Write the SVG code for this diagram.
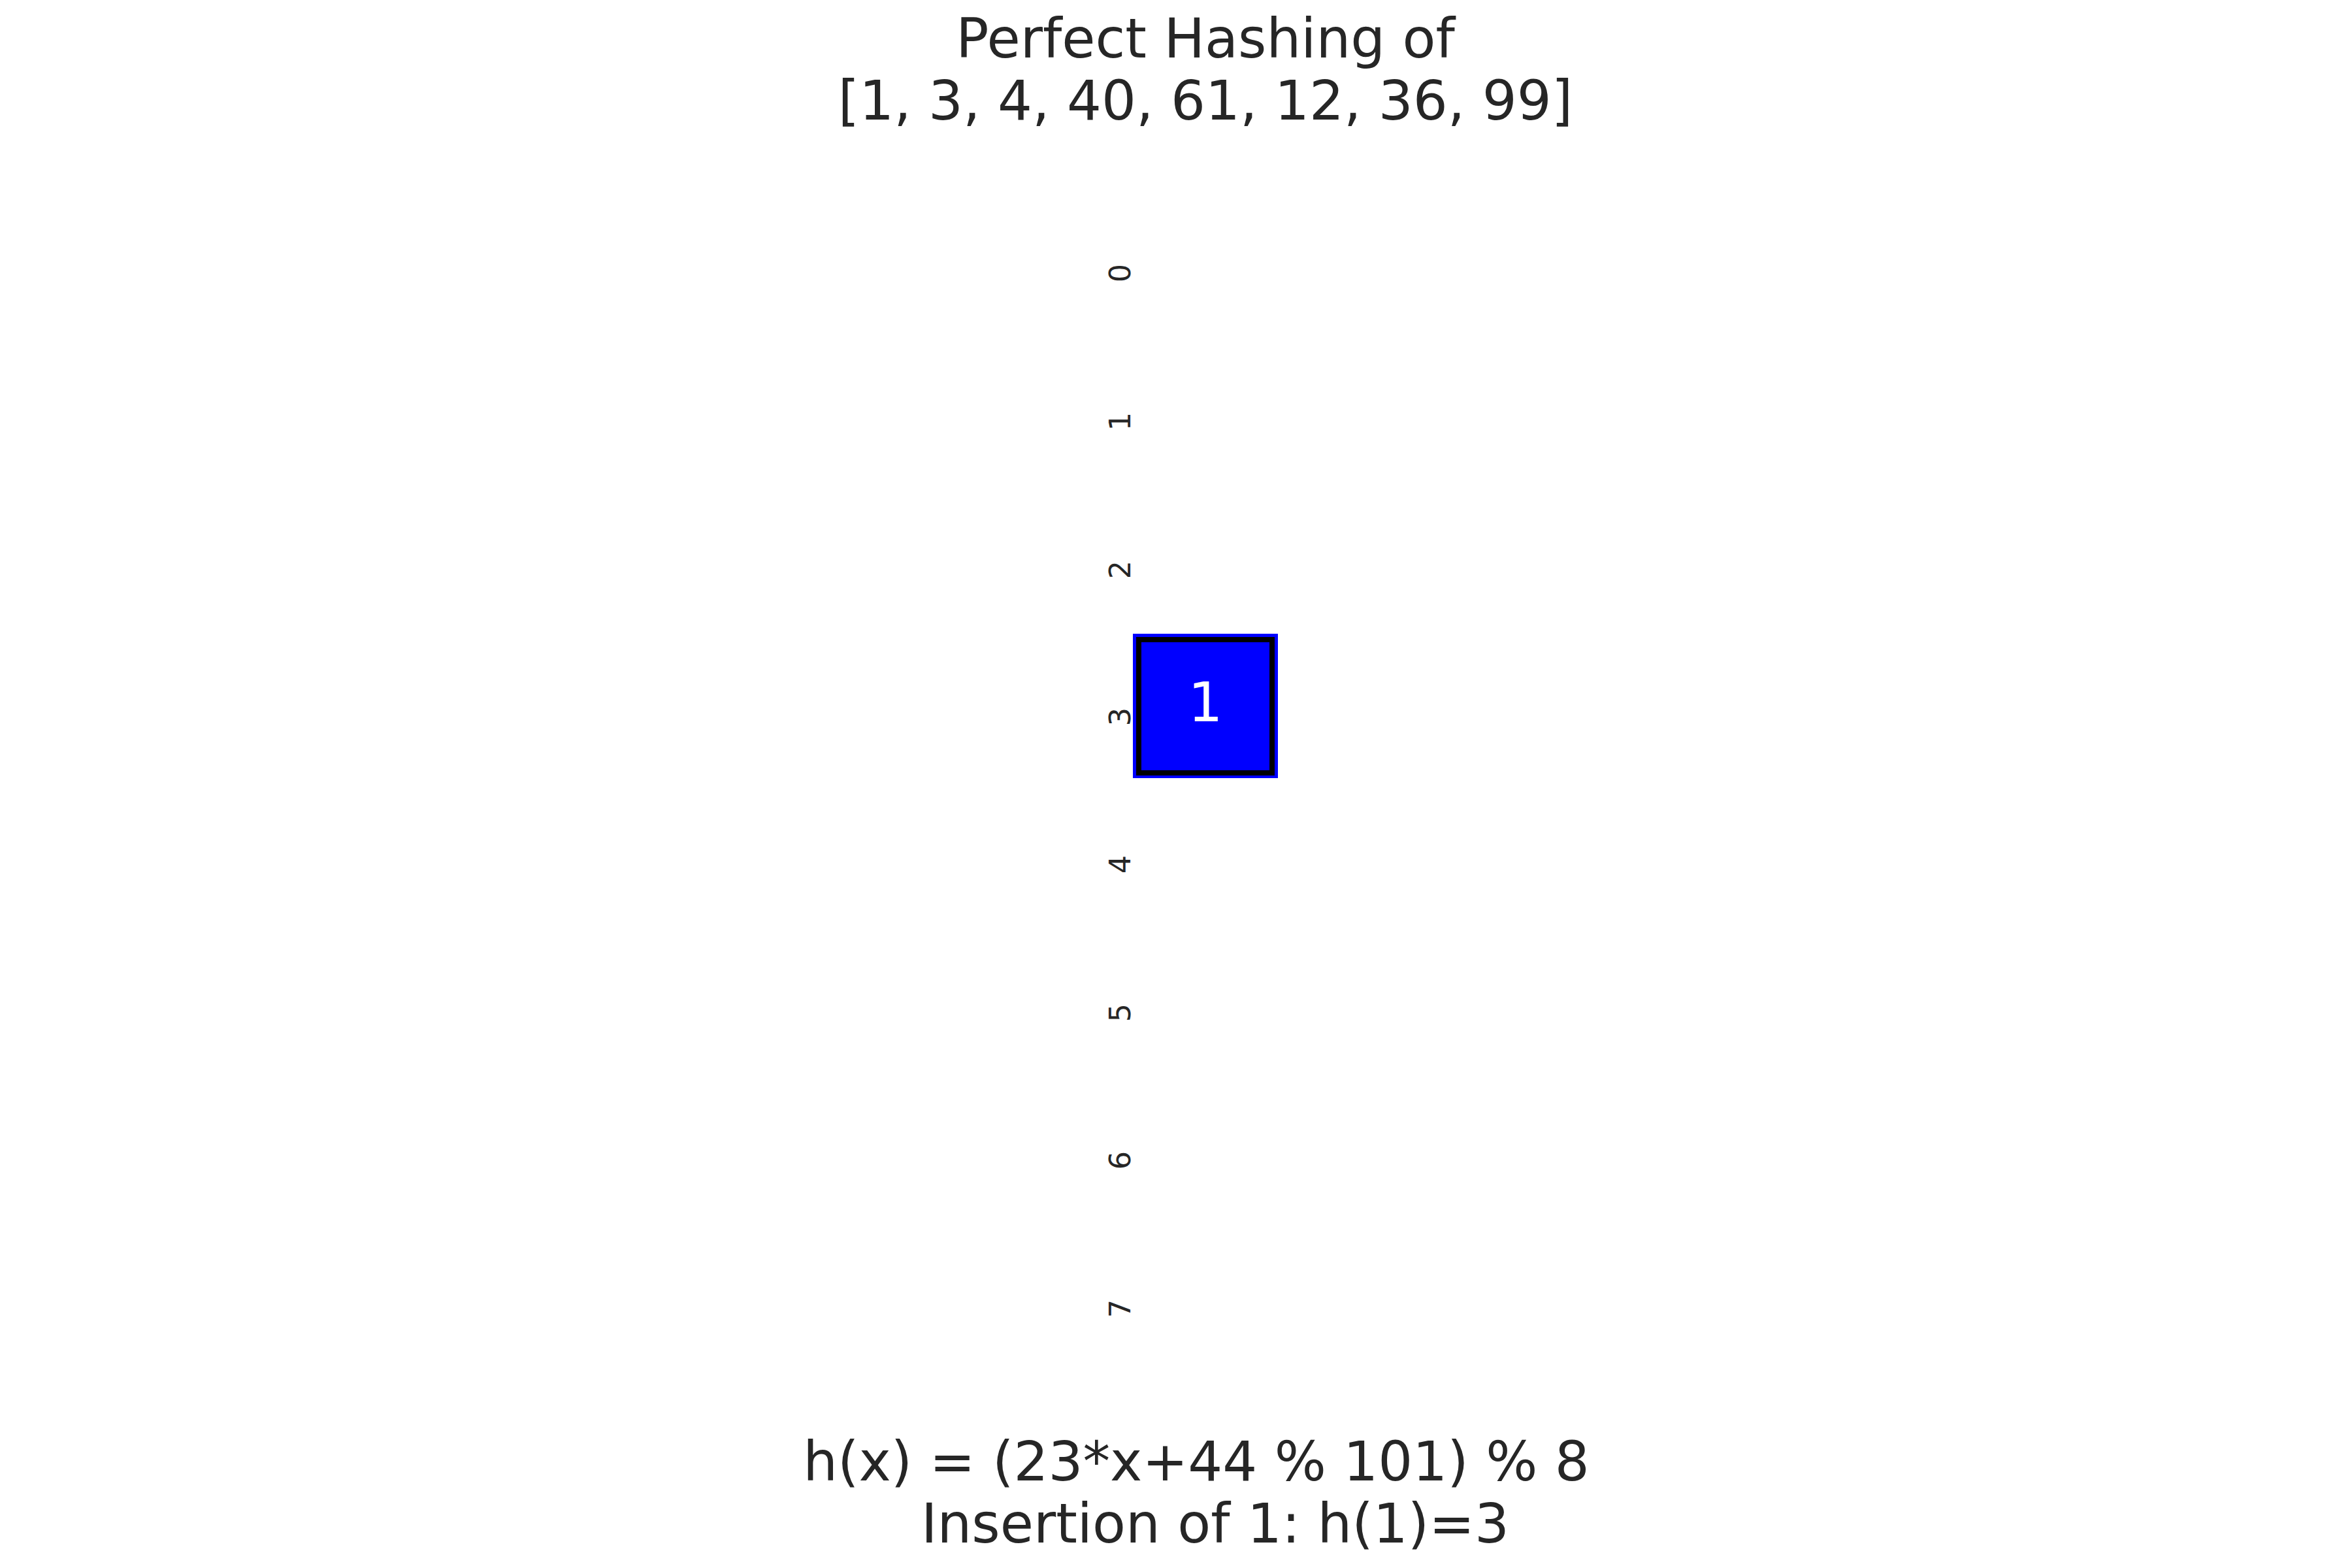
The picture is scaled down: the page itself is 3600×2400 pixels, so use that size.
<svg xmlns="http://www.w3.org/2000/svg" width="3600" height="2400" viewBox="0 0 3600 2400">
<style>
.t{font-family:"DejaVu Sans",sans-serif;fill:#262626}
.title{font-size:83.3px;text-anchor:middle}
.tick{font-size:44.4px;text-anchor:middle}
.val{font-family:"DejaVu Sans",sans-serif;font-size:83.3px;fill:#ffffff;text-anchor:middle}
</style>
<rect x="0" y="0" width="3600" height="2400" fill="#ffffff"/>
<g id="title">
<text class="t title" x="1845" y="88">Perfect Hashing of</text>
<text class="t title" x="1845" y="183">[1, 3, 4, 40, 61, 12, 36, 99]</text>
</g>
<g id="ticks">
<text class="t tick" transform="translate(1730,418) rotate(-90)">0</text>
<text class="t tick" transform="translate(1730,645) rotate(-90)">1</text>
<text class="t tick" transform="translate(1730,872) rotate(-90)">2</text>
<text class="t tick" transform="translate(1730,1097) rotate(-90)">3</text>
<text class="t tick" transform="translate(1730,1323) rotate(-90)">4</text>
<text class="t tick" transform="translate(1730,1550) rotate(-90)">5</text>
<text class="t tick" transform="translate(1730,1776) rotate(-90)">6</text>
<text class="t tick" transform="translate(1730,2003) rotate(-90)">7</text>
</g>
<g id="cell3">
<rect x="1734" y="970" width="222" height="221" fill="#0000ff"/>
<rect x="1743" y="979" width="204" height="204" fill="none" stroke="#000000" stroke-width="8"/>
<text class="val" x="1845" y="1104">1</text>
</g>
<g id="connectors"></g>
<g id="xlabel">
<text class="t title" x="1831" y="2266">h(x) = (23*x+44 % 101) % 8</text>
<text class="t title" x="1860" y="2361">Insertion of 1: h(1)=3</text>
</g>
</svg>
